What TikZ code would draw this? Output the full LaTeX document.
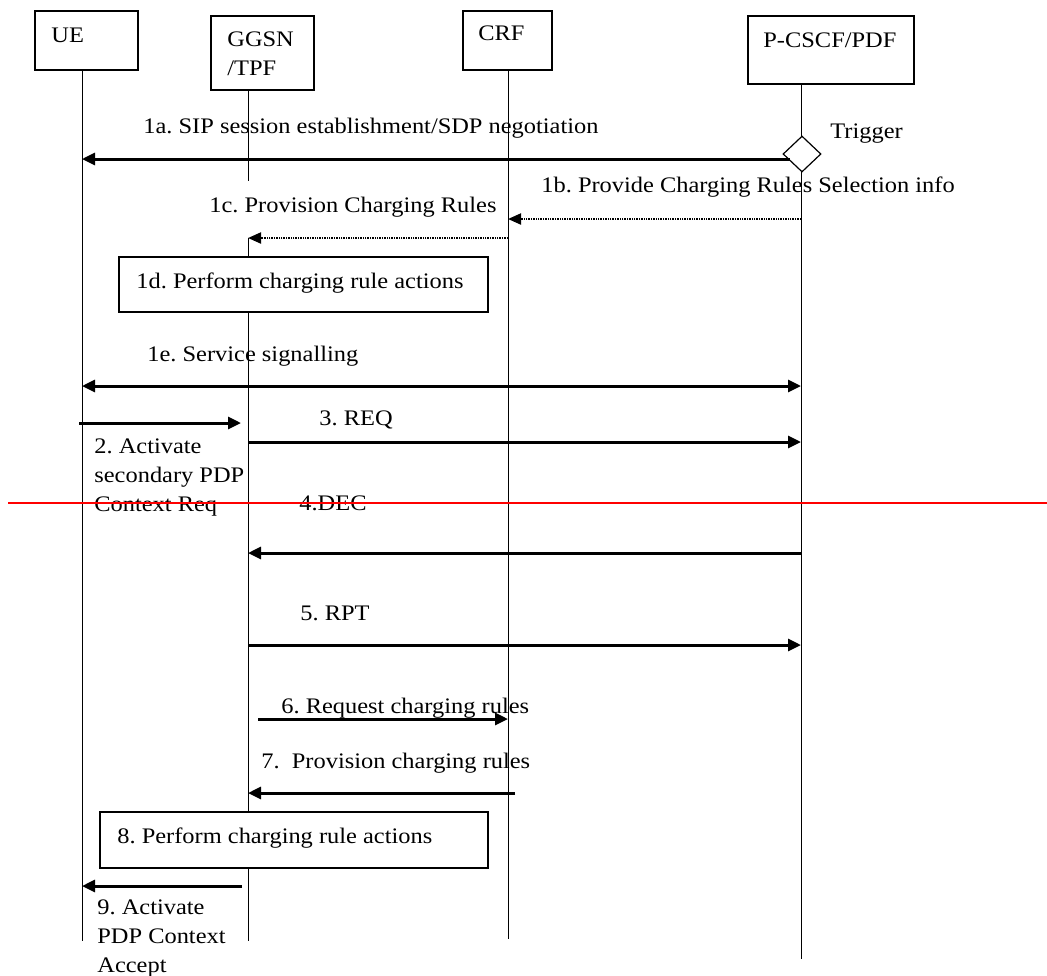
\documentclass[tikz,border=0pt]{standalone}
\usepackage{fontspec}
\setmainfont[FakeStretch=1.1]{Liberation Serif}
\usetikzlibrary{arrows.meta,shapes.geometric}
\tikzset{
  msg/.style={line width=1.5pt,-{Triangle[length=6.5pt,width=6pt]}},
  info/.style={line width=1pt,dash pattern=on .7pt off .5pt,-{Triangle[length=6.5pt,width=5.5pt]}},
  frame/.style={line width=.7pt},
  lbl/.style={anchor=base west,inner sep=0pt,align=left}
}
\frenchspacing
\begin{document}
\begin{tikzpicture}[x=.5pt,y=-.5pt,font=\fontsize{11.1}{14.3}\selectfont]
\useasboundingbox (0,0) rectangle (1047,975);

% lifelines:
\coordinate (ue) at (82,0);
\coordinate (gg) at (248,0);
\coordinate (crf) at (508,0);
\coordinate (pc) at (801,0);
\draw[line width=.5pt] (ue |- 0,70) -- (ue |- 0,941);
\draw[line width=.5pt] (gg |- 0,90) -- (gg |- 0,181);
\draw[line width=.5pt] (gg |- 0,238) -- (gg |- 0,941);
\draw[line width=.5pt] (crf |- 0,70) -- (crf |- 0,939);
\draw[line width=.5pt] (pc |- 0,84) -- (pc |- 0,959);

% entities:
\draw[frame] (35,11) rectangle (138,70);
\node[lbl] (ueName) at (51,42) {UE};
\draw[frame] (211,16) rectangle (314,90);
\node[lbl] (ggName) at (227,75) {GGSN\\/TPF};
\draw[frame] (463,11) rectangle (552,70);
\node[lbl] (crfName) at (478,40) {CRF};
\draw[frame] (748,16) rectangle (914,84);
\node[lbl] (pcName) at (763,47) {P-CSCF/PDF};

% 1a - 1c:
\node[draw,diamond,fill=white,line width=.6pt,inner sep=0pt,minimum width=19pt,minimum height=18pt] (trig) at (802,154) {};
\node[lbl] (trigText) at (830,138) {Trigger};
\draw[msg] ([xshift=4pt]trig.west |- 0,159) -- (ue |- 0,159);
\node[lbl] (m1a) at (143,133) {1a. SIP session establishment/SDP negotiation};
\draw[info] (pc |- 0,219) -- (crf |- 0,219);
\node[lbl] (m1b) at (541,192) {1b. Provide Charging Rules Selection info};
\draw[info] (crf |- 0,238) -- (gg |- 0,238);
\node[lbl] (m1c) at (209,212) {1c. Provision Charging Rules};

% 1d:
\draw[frame,fill=white] (119,257) rectangle (488,312);
\node[lbl] (m1d) at (136,288) {1d. Perform charging rule actions};

% 1e - 5:
\draw[msg,{Triangle[length=6.5pt,width=6pt]}-{Triangle[length=6.5pt,width=6pt]}] (ue |- 0,386) -- (pc |- 0,386);
\node[lbl] (m1e) at (147,361) {1e. Service signalling};
\draw[msg] ([xshift=-1.5pt]ue |- 0,423) -- ([xshift=-3.5pt]gg |- 0,423);
\node[lbl] (m2) at (94,511) {2. Activate\\secondary PDP\\Context Req};
\draw[msg] (gg |- 0,442) -- (pc |- 0,442);
\node[lbl] (m3) at (319,425) {3. REQ};
\draw[msg] (pc |- 0,553) -- (gg |- 0,553);
\node[lbl] (m4) at (299,510) {4.DEC};
\draw[msg] (gg |- 0,645) -- (pc |- 0,645);
\node[lbl] (m5) at (300,620) {5. RPT};

% 6 - 9:
\draw[msg] ([xshift=5pt]gg |- 0,719) -- (crf |- 0,719);
\node[lbl] (m6) at (281,713) {6. Request charging rules};
\draw[msg] ([xshift=3.5pt]crf |- 0,793) -- (gg |- 0,793);
\node[lbl] (m7) at (261,768) {7.\ \ Provision charging rules};
\draw[frame,fill=white] (100,812) rectangle (488,868);
\node[lbl] (m8) at (117,843) {8. Perform charging rule actions};
\draw[msg] ([xshift=-3pt]gg |- 0,886) -- (ue |- 0,886);
\node[lbl] (m9) at (97,972) {9. Activate\\PDP Context\\Accept};

% mark:
\draw[red,line width=1.1pt] (8,503) -- (1047,503);
\end{tikzpicture}
\end{document}
